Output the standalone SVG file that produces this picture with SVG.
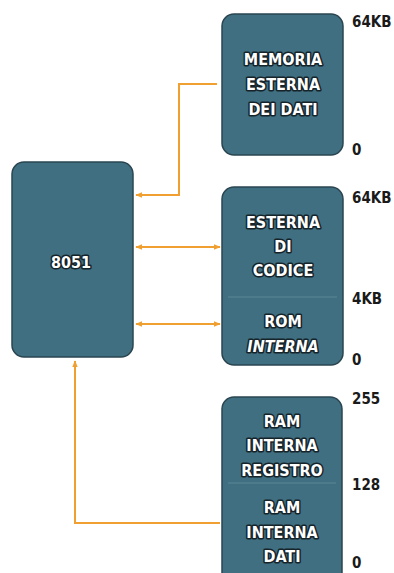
<svg xmlns="http://www.w3.org/2000/svg" width="394" height="573" viewBox="0 0 394 573">
<defs>
<marker id="ah" viewBox="0 0 10 10" refX="9" refY="5" markerWidth="7" markerHeight="7" orient="auto-start-reverse" markerUnits="userSpaceOnUse">
<path d="M0,1 L10,5 L0,9 Z" fill="#f0a030"/>
</marker>
<style>
.box{fill:#3f6f80;stroke:#2a4550;stroke-width:1.5}
.div{stroke:#5d8795;stroke-width:1.2}
.t{font-family:"DejaVu Sans Condensed","DejaVu Sans",sans-serif;font-weight:bold;font-size:16px;fill:#ffffff;stroke:#15232a;stroke-width:3;stroke-linejoin:round;paint-order:stroke;text-anchor:middle}
.lbl{font-family:"DejaVu Sans Condensed","DejaVu Sans",sans-serif;font-weight:bold;font-size:15px;fill:#1a1a1a}
.c{fill:none;stroke:#f0a030;stroke-width:2}
</style>
</defs>
<g id="cpu">
<rect class="box" x="12" y="162" width="121" height="195" rx="12"/>
<text class="t" x="71" y="268">8051</text>
</g>
<g id="ext-data">
<rect class="box" x="222" y="14" width="121" height="141" rx="12"/>
<text class="t" x="283" y="65">MEMORIA</text>
<text class="t" x="283" y="90">ESTERNA</text>
<text class="t" x="283" y="115">DEI DATI</text>
<text class="lbl" x="352" y="27">64KB</text>
<text class="lbl" x="352" y="155">0</text>
</g>
<g id="code">
<rect class="box" x="222" y="187" width="121" height="178" rx="12"/>
<line class="div" x1="228" y1="297" x2="337" y2="297"/>
<text class="t" x="283" y="228">ESTERNA</text>
<text class="t" x="283" y="252">DI</text>
<text class="t" x="283" y="276">CODICE</text>
<text class="t" x="283" y="327">ROM</text>
<text class="t" x="283" y="352" font-style="italic">INTERNA</text>
<text class="lbl" x="352" y="203">64KB</text>
<text class="lbl" x="352" y="304">4KB</text>
<text class="lbl" x="352" y="365">0</text>
</g>
<g id="ram">
<rect class="box" x="222" y="397" width="120" height="190" rx="12"/>
<line class="div" x1="228" y1="483" x2="336" y2="483"/>
<text class="t" x="282" y="427">RAM</text>
<text class="t" x="282" y="451">INTERNA</text>
<text class="t" x="282" y="476">REGISTRO</text>
<text class="t" x="282" y="513">RAM</text>
<text class="t" x="282" y="538">INTERNA</text>
<text class="t" x="282" y="562">DATI</text>
<text class="lbl" x="352" y="404">255</text>
<text class="lbl" x="352" y="490">128</text>
<text class="lbl" x="352" y="568">0</text>
</g>
<g id="connectors">
<path class="c" d="M217,84 H179 V195 H136" marker-end="url(#ah)"/>
<path class="c" d="M136,247 H220" marker-start="url(#ah)" marker-end="url(#ah)"/>
<path class="c" d="M136,324 H220" marker-start="url(#ah)" marker-end="url(#ah)"/>
<path class="c" d="M220,523 H75 V361" marker-end="url(#ah)"/>
</g>
</svg>
